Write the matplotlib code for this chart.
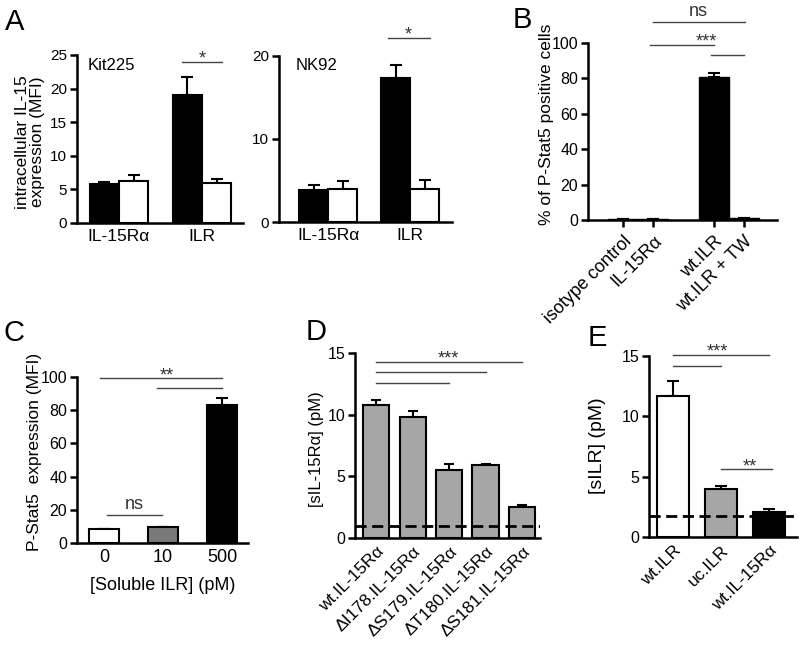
import numpy as np
import matplotlib.pyplot as plt

plt.rcParams['font.family'] = ['Liberation Sans', 'DejaVu Sans']

# panel A
a_groups = ['IL-15R\u03b1', 'ILR']
kit_black = [5.8, 19.1]
kit_black_err = [0.25, 2.7]
kit_white = [6.3, 5.9]
kit_white_err = [0.9, 0.6]
nk_black = [3.8, 17.3]
nk_black_err = [0.6, 1.6]
nk_white = [4.0, 4.0]
nk_white_err = [0.9, 1.0]

# panel B
b_labels = ['isotype control', 'IL-15R\u03b1', 'wt.ILR', 'wt.ILR + TW']
b_pos = [0, 1, 3, 4]
b_vals = [0.5, 0.8, 81.0, 1.0]
b_err = [0.0, 0.0, 2.0, 0.0]

# panel C
c_labels = ['0', '10', '500']
c_vals = [8.2, 9.8, 83.0]
c_err = [0.3, 0.0, 4.5]
c_colors = ['white', '#7a7a7a', 'black']

# panel D
d_labels = ['wt.IL-15R\u03b1', '\u0394I178.IL-15R\u03b1', '\u0394S179.IL-15R\u03b1',
            '\u0394T180.IL-15R\u03b1', '\u0394S181.IL-15R\u03b1']
d_vals = [10.8, 9.8, 5.5, 5.9, 2.5]
d_err = [0.4, 0.5, 0.5, 0.1, 0.2]
d_cutoff = 1.0

# panel E
e_labels = ['wt.ILR', 'uc.ILR', 'wt.IL-15R\u03b1']
e_vals = [11.7, 3.95, 2.05]
e_err = [1.2, 0.3, 0.3]
e_colors = ['white', '#a6a6a6', 'black']
e_cutoff = 1.75

W, H = 799, 646
fig = plt.figure(figsize=(W / 100, H / 100), dpi=100)


def px_axes(left, right, top, bottom):
    return fig.add_axes([left / W, 1 - bottom / H, (right - left) / W, (bottom - top) / H])


def style(ax, ysize=11, xsize=11, xticklen=0):
    for s in ['top', 'right']:
        ax.spines[s].set_visible(False)
    for s in ['left', 'bottom']:
        ax.spines[s].set_linewidth(1.8)
    ax.tick_params(axis='y', width=1.8, length=5, labelsize=ysize, pad=2)
    ax.tick_params(axis='x', width=1.8, length=xticklen, labelsize=xsize, pad=4)


def sig(ax, x0, x1, y):
    ax.plot([x0, x1], [y, y], color='#444444', lw=1.0, clip_on=False)


def star(ax, x, y, s, size=13):
    # asterisks sit just above the bar line, "ns" a bit higher
    dy = -1.5 if s.startswith('*') else 4.0
    ax.annotate(s, (x, y), xytext=(0, dy), textcoords='offset points',
                ha='center', va='baseline', fontsize=size, color='#333333',
                annotation_clip=False)


def one_sided(ax, x, y, err, cap=4.3):
    ax.errorbar(x, y, yerr=[np.zeros(len(err)), err], fmt='none', ecolor='black',
                elinewidth=1.5, capsize=cap, capthick=1.5, zorder=1)


# ---- A: Kit225
ax = px_axes(77, 243, 55, 223)
x = np.arange(len(a_groups))
w = 0.35
one_sided(ax, x - w / 2, kit_black, kit_black_err)
one_sided(ax, x + w / 2, kit_white, kit_white_err)
ax.bar(x - w / 2, kit_black, w, color='black', edgecolor='black', lw=1.5, zorder=2)
ax.bar(x + w / 2, kit_white, w, color='white', edgecolor='black', lw=1.5, zorder=2)
ax.set_xlim(-0.506, 1.494)
ax.set_ylim(0, 25)
ax.set_yticks([0, 5, 10, 15, 20, 25])
ax.set_xticks(x)
ax.set_xticklabels(a_groups)
style(ax, ysize=11, xsize=12.5)
ax.text(-0.38, 23.5, 'Kit225', fontsize=12, va='center')
sig(ax, 0.76, 1.24, 24.0)
star(ax, 1.0, 24.0, '*')

# ---- A: NK92
ax = px_axes(279, 452, 56, 222)
one_sided(ax, x - w / 2, nk_black, nk_black_err)
one_sided(ax, x + w / 2, nk_white, nk_white_err)
ax.bar(x - w / 2, nk_black, w, color='black', edgecolor='black', lw=1.5, zorder=2)
ax.bar(x + w / 2, nk_white, w, color='white', edgecolor='black', lw=1.5, zorder=2)
ax.set_xlim(-0.6, 1.51)
ax.set_ylim(0, 20)
ax.set_yticks([0, 10, 20])
ax.set_xticks(x)
ax.set_xticklabels(a_groups)
style(ax, ysize=11, xsize=12.5)
ax.text(-0.4, 18.9, 'NK92', fontsize=12, va='center')
sig(ax, 0.73, 1.24, 22.2)
star(ax, 0.98, 22.2, '*')

fig.text(30 / W, 1 - 142 / H, 'intracellular IL-15\nexpression (MFI)', rotation=90,
         ha='center', va='center', fontsize=12.5, linespacing=1.05)
fig.text(15 / W, 1 - 22 / H, 'A', fontsize=21, ha='center', va='center')

# ---- B
ax = px_axes(588, 777, 43, 220)
one_sided(ax, b_pos, b_vals, b_err)
ax.bar(b_pos, b_vals, 1.0, color='black', edgecolor='black', lw=1.0, zorder=2)
ax.set_xlim(-1.16, 5.09)
ax.set_ylim(0, 100)
ax.set_yticks([0, 20, 40, 60, 80, 100])
ax.set_xticks(b_pos)
ax.set_xticklabels(b_labels, rotation=45, ha='right', rotation_mode='anchor')
style(ax, ysize=11.5, xsize=13, xticklen=5)
sig(ax, 1.0, 4.03, 112)
star(ax, 2.5, 112, 'ns')
sig(ax, 0.9, 3.0, 99)
star(ax, 2.75, 99, '***')
sig(ax, 2.9, 4.0, 93)
fig.text(546 / W, 1 - 124 / H, '% of P-Stat5 positive cells', rotation=90,
         ha='center', va='center', fontsize=12.5)
fig.text(522 / W, 1 - 20 / H, 'B', fontsize=21, ha='center', va='center')

# ---- C
ax = px_axes(77, 248, 377, 543)
xc = np.arange(len(c_labels))
one_sided(ax, xc, c_vals, c_err)
ax.bar(xc, c_vals, 0.52, color=c_colors, edgecolor='black', lw=1.5, zorder=2)
ax.set_xlim(-0.46, 2.44)
ax.set_ylim(0, 100)
ax.set_yticks([0, 20, 40, 60, 80, 100])
ax.set_xticks(xc)
ax.set_xticklabels(c_labels)
style(ax, ysize=11.5, xsize=13)
ax.set_xlabel('[Soluble ILR] (pM)', fontsize=13, labelpad=8)
sig(ax, -0.07, 2.0, 99.4)
sig(ax, 0.9, 2.0, 93.4)
star(ax, 1.07, 99.4, '**')
sig(ax, 0.05, 0.98, 17)
star(ax, 0.52, 17, 'ns')
fig.text(35 / W, 1 - 452 / H, 'P-Stat5  expression (MFI)', rotation=90,
         ha='center', va='center', fontsize=12.5)
fig.text(14 / W, 1 - 333 / H, 'C', fontsize=21, ha='center', va='center')

# ---- D
ax = px_axes(355, 540, 353, 538)
xd = np.arange(len(d_labels))
one_sided(ax, xd, d_vals, d_err, cap=3.5)
ax.bar(xd, d_vals, 0.72, color='#a6a6a6', edgecolor='black', lw=1.5, zorder=2)
ax.axhline(d_cutoff, color='black', lw=2.0, ls=(0, (4, 2)), zorder=3)
ax.set_xlim(-0.58, 4.49)
ax.set_ylim(0, 15)
ax.set_yticks([0, 5, 10, 15])
ax.set_xticks(xd)
ax.set_xticklabels(d_labels, rotation=45, ha='right', rotation_mode='anchor')
style(ax, ysize=11.5, xsize=12.5)
sig(ax, 0, 4, 14.3)
sig(ax, 0, 3, 13.45)
sig(ax, 0, 2, 12.55)
star(ax, 1.97, 14.3, '***')
fig.text(317 / W, 1 - 449 / H, '[sIL-15R\u03b1] (pM)', rotation=90,
         ha='center', va='center', fontsize=12)
fig.text(316 / W, 1 - 332 / H, 'D', fontsize=21, ha='center', va='center')

# ---- E
ax = px_axes(649, 797, 356, 537)
xe = np.arange(len(e_labels))
one_sided(ax, xe, e_vals, e_err)
ax.bar(xe, e_vals, 0.68, color=e_colors, edgecolor='black', lw=1.5, zorder=2)
ax.axhline(e_cutoff, color='black', lw=2.0, ls=(0, (4, 2)), zorder=3)
ax.set_xlim(-0.5, 2.58)
ax.set_ylim(0, 15)
ax.set_yticks([0, 5, 10, 15])
ax.set_xticks(xe)
ax.set_xticklabels(e_labels, rotation=45, ha='right', rotation_mode='anchor')
style(ax, ysize=11.5, xsize=12.5)
sig(ax, 0, 2, 15.1)
sig(ax, 0, 1, 14.2)
sig(ax, 1, 2.05, 5.6)
star(ax, 0.92, 15.1, '***')
star(ax, 1.6, 5.6, '**')
fig.text(597 / W, 1 - 446 / H, '[sILR] (pM)', rotation=90,
         ha='center', va='center', fontsize=14)
fig.text(597 / W, 1 - 338 / H, 'E', fontsize=21, ha='center', va='center')

fig.savefig('out.png', dpi=100)
